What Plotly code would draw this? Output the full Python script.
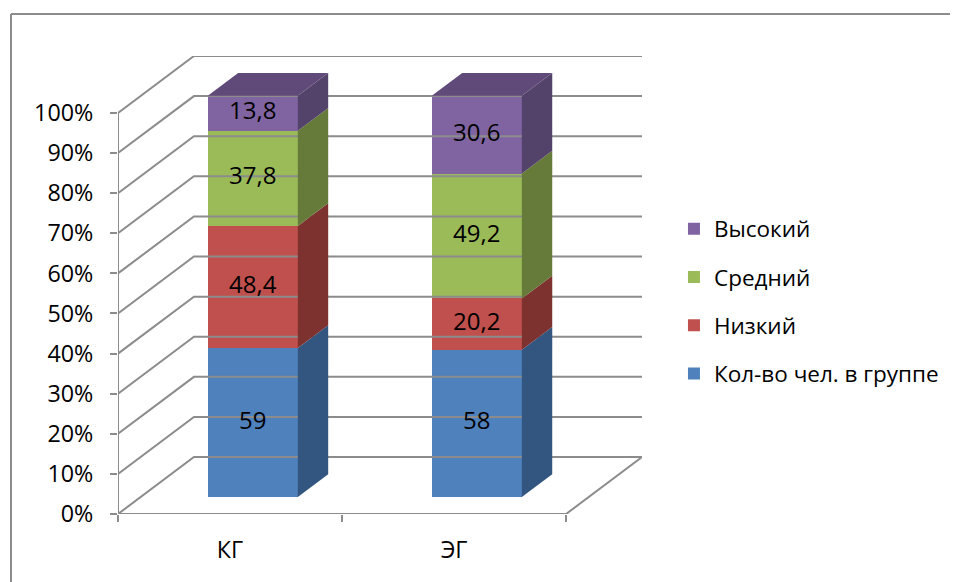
import plotly.graph_objects as go

categories = ["КГ", "ЭГ"]
series_names = ["Кол-во чел. в группе", "Низкий", "Средний", "Высокий"]
values_kg = [59, 48.4, 37.8, 13.8]
values_eg = [58, 20.2, 49.2, 30.6]
y_ticks = [0, 10, 20, 30, 40, 50, 60, 70, 80, 90, 100]

front_colors = ["#4F81BD", "#C0504D", "#9BBB59", "#8064A2"]
side_colors = ["#335681", "#7E3230", "#667A3A", "#534269"]
top_colors = ["#3B6394", "#913937", "#758C43", "#604A7A"]

FONT = "Open Sans"
FS = 22.5
FS_AX = 23.3
FS_BAR = 24
DX, DY = 0.339, 14.2      # depth vector (x units, percent units)
F_OFF, G_DEP = 0.30, 0.40  # bar position in depth, bar depth fraction
W = 0.402
GRID = "#8C8C8C"

# figure pixel geometry (page has 8px body margin)
FW, FH = 950, 574
L, T = 110, 48
PW, PH = 524, 458

cols = [values_kg, values_eg]
pct = []
for vals in cols:
    s = sum(vals)
    pct.append([v / s * 100 for v in vals])

fig = go.Figure()

# grid / walls
gx, gy = [], []
for v in y_ticks:
    gx += [-0.5, -0.5 + DX, 1.5 + DX, None]
    gy += [v, v + DY, v + DY, None]
gx += [-0.5, 1.5, 1.5 + DX, None, -0.5, -0.5]
gy += [0, 0, DY, None, 0, 100]
fig.add_trace(go.Scatter(x=gx, y=gy, mode="lines", line=dict(color=GRID, width=2),
                         hoverinfo="skip", showlegend=False, cliponaxis=False))

ox, oy = F_OFF * DX, F_OFF * DY
bx, by = G_DEP * DX, G_DEP * DY

# side and top faces
for ci in range(len(categories)):
    cum = 0
    for si in range(len(series_names)):
        p = pct[ci][si]
        xr = ci + ox + W / 2
        y0, y1 = cum + oy, cum + p + oy
        fig.add_trace(go.Scatter(
            x=[xr, xr + bx, xr + bx, xr, xr], y=[y0, y0 + by, y1 + by, y1, y0],
            mode="lines", fill="toself", fillcolor=side_colors[si],
            line=dict(width=0, color=side_colors[si]), hoverinfo="skip", showlegend=False))
        cum += p
    xl = ci + ox - W / 2
    xr = ci + ox + W / 2
    yt = cum + oy
    fig.add_trace(go.Scatter(
        x=[xl, xr, xr + bx, xl + bx, xl], y=[yt, yt, yt + by, yt + by, yt],
        mode="lines", fill="toself", fillcolor=top_colors[-1],
        line=dict(width=0, color=top_colors[-1]), hoverinfo="skip", showlegend=False))

# front faces
lx, ly, lt = [], [], []
for si, name in enumerate(series_names):
    xs, ys, bases = [], [], []
    for ci in range(len(categories)):
        b = sum(pct[ci][:si]) + oy
        xs.append(ci + ox)
        ys.append(pct[ci][si])
        bases.append(b)
        lx.append(ci + ox)
        ly.append(b + pct[ci][si] / 2)
        lt.append(f"{cols[ci][si]:g}".replace(".", ","))
    fig.add_trace(go.Bar(
        x=xs, y=ys, base=bases, width=W, name=name, legendgroup=name,
        legendrank=100 - si,
        marker=dict(color=front_colors[si], line=dict(width=0)),
        textposition="none"))

# data labels
fig.add_trace(go.Scatter(x=lx, y=ly, text=lt, mode="text", textposition="middle center",
                         textfont=dict(family=FONT, size=FS_BAR, color="black"),
                         hoverinfo="skip", showlegend=False))

fig.update_layout(
    width=FW, height=FH,
    margin=dict(l=L, r=FW - L - PW, t=T, b=FH - T - PH, pad=0),
    paper_bgcolor="white", plot_bgcolor="white",
    barmode="overlay", bargap=0,
    font=dict(family=FONT, size=FS, color="black"),
    showlegend=True,
    legend=dict(x=1.061, y=0.465, xanchor="left", yanchor="middle",
                traceorder="grouped", tracegroupgap=16,
                font=dict(family=FONT, size=FS, color="black"),
                bgcolor="rgba(0,0,0,0)"),
    xaxis=dict(range=[-0.5, 1.5 + DX], tickvals=[0, 1], ticktext=categories,
               ticks="", showgrid=False, zeroline=False, showline=False,
               ticklabelstandoff=20, fixedrange=True,
               tickfont=dict(family=FONT, size=FS_AX, color="black"),
               minor=dict(tick0=-0.5, dtick=1, ticks="outside", ticklen=7,
                          tickcolor=GRID, tickwidth=2, showgrid=False)),
    yaxis=dict(range=[0, 100 + DY], tickvals=y_ticks,
               ticktext=[f"{v}%" for v in y_ticks],
               ticks="outside", ticklen=7, tickcolor=GRID, tickwidth=2,
               showgrid=False, zeroline=False, showline=False,
               tickfont=dict(family=FONT, size=FS_AX, color="black"),
               ticklabelstandoff=12, fixedrange=True),
    shapes=[
        dict(type="line", xref="paper", yref="paper",
             x0=(3 - L) / PW, x1=(FW + 5 - L) / PW,
             y0=(T + PH - 6) / PH, y1=(T + PH - 6) / PH,
             line=dict(color="#8C8C8C", width=2)),
        dict(type="line", xref="paper", yref="paper",
             x0=(3 - L) / PW, x1=(3 - L) / PW,
             y0=(T + PH - 6) / PH, y1=(T + PH - FH - 5) / PH,
             line=dict(color="#8C8C8C", width=2)),
    ],
)

fig.write_html("out.html")
